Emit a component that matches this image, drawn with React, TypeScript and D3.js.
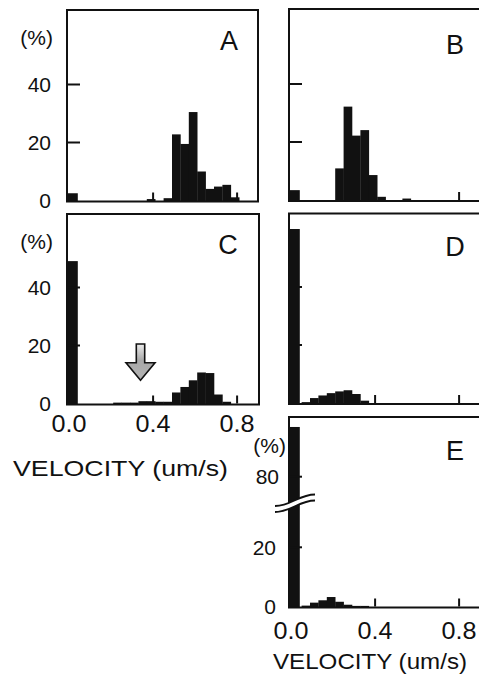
import React from 'react';
import * as d3 from 'd3';

// ---- data ----
const binLo = [-0.01, 0.05, 0.09, 0.13, 0.17, 0.21, 0.25, 0.29, 0.33, 0.37, 0.41, 0.45, 0.49, 0.53, 0.57, 0.61, 0.65, 0.69, 0.73, 0.77, 0.81, 0.85];
const binHi = [0.04, 0.09, 0.13, 0.17, 0.21, 0.25, 0.29, 0.33, 0.37, 0.41, 0.45, 0.49, 0.53, 0.57, 0.61, 0.65, 0.69, 0.73, 0.77, 0.81, 0.85, 0.89];

const valuesA = [2.5, 0, 0, 0, 0, 0, 0, 0, 0, 0.5, 0, 0.8, 22.8, 19.5, 30.5, 10, 4, 4.8, 5.4, 1.1, 0, 0];
const valuesB = [3.4, 0, 0, 0, 0, 10.9, 32.2, 22.2, 24.1, 8.6, 1.1, 0, 0, 0.5, 0, 0, 0, 0, 0, 0, 0, 0];
const valuesC = [49.1, 0, 0, 0, 0, 0.3, 0.3, 0.3, 0.8, 0.8, 0.6, 0.6, 3.8, 5.7, 8, 10.7, 10.5, 3.1, 0.6, 0, 0, 0];
const valuesD = [60, 0.3, 1.7, 2.6, 3.4, 4, 4.4, 3.1, 0.8, 0, 0, 0, 0, 0, 0, 0, 0, 0, 0, 0, 0, 0];
const valuesE = [96.8, 0.3, 1.3, 2.1, 3.2, 1.6, 0.6, 0.2, 0.2, 0, 0, 0, 0, 0, 0, 0, 0, 0, 0, 0, 0, 0];

const xTickValues = [0.4, 0.8];
const xLabelValues = [0, 0.4, 0.8];
const yTickValues = [20, 40];
const yLabelValues = [0, 20, 40];
const eLowerTicks = [20];
const eUpperTicks = [80];
const eLowerLabels = [0, 20];
const eUpperLabels = [80];
const panelLetters = ['A', 'B', 'C', 'D', 'E'];
const axisTitle = 'VELOCITY (um/s)';
const unitLabel = '(%)';
const arrowC = { x: 0.34, top: 20.5, tip: 8 };
const eDomain = { lowerMax: 36, upperMin: 72, upperMax: 100 };

const FONT = "'Liberation Sans', Arial, Helvetica, sans-serif";
const INK = '#111';

type Layout = { left: number; right: number; top: number; base: number };

const layouts: Layout[] = [
  { left: 67, right: 258, top: 10, base: 200.5 },
  { left: 289, right: 482, top: 9, base: 200 },
  { left: 67, right: 259, top: 214, base: 403.5 },
  { left: 289, right: 482, top: 213.5, base: 403 },
  { left: 289, right: 482, top: 417, base: 606.5 },
];
const seriesList = [valuesA, valuesB, valuesC, valuesD, valuesE];
const letterPos = [
  { x: 229, y: 50 },
  { x: 455, y: 54 },
  { x: 228, y: 254 },
  { x: 455, y: 256 },
  { x: 455, y: 460 },
];

function makeX(l: Layout) {
  return d3.scaleLinear().domain([-0.01, 0.9]).range([l.left, l.left + 191.1]);
}
function makeY(l: Layout) {
  return d3.scaleLinear().domain([0, 20]).range([l.base, l.base - 58]);
}

function Bars({ x, y, values, base }: { x: any; y: (v: number) => number; values: number[]; base: number }) {
  return (
    <g>
      {values.map((v, i) =>
        v > 0 ? (
          <rect
            key={i}
            x={x(binLo[i])}
            y={y(v)}
            width={x(binHi[i]) - x(binLo[i]) + 0.3}
            height={base + 1 - y(v)}
            fill={INK}
          />
        ) : null
      )}
    </g>
  );
}

function Panel({ idx }: { idx: number }) {
  const l = layouts[idx];
  const x = makeX(l);
  const isE = idx === 4;
  const yMain = makeY(l);
  const yLower = d3.scaleLinear().domain([0, 20]).range([l.base, l.base - 59.2]);
  const yUpper = d3.scaleLinear().domain([80, 100]).range([476.7, 476.7 - 59.2]);
  const yE = (v: number) => (v <= eDomain.lowerMax ? yLower(v) : yUpper(Math.min(v, eDomain.upperMax)));
  const y = isE ? yE : (v: number) => yMain(v);
  const values = seriesList[idx];
  const showLabels = idx === 0 || idx === 2;

  return (
    <g>
      <Bars x={x} y={y} values={values} base={l.base} />
      {xTickValues.map((t) => (
        <line key={t} x1={x(t)} x2={x(t)} y1={l.base} y2={l.base - 8} stroke={INK} strokeWidth={2} />
      ))}
      {(isE ? [...eLowerTicks.map((t) => yLower(t)), ...eUpperTicks.map((t) => yUpper(t))] : yTickValues.map((t) => yMain(t))).map((yy, i) => (
        <line key={i} x1={l.left} x2={l.left + 13} y1={yy} y2={yy} stroke={INK} strokeWidth={2} />
      ))}
      <rect x={l.left} y={l.top} width={l.right - l.left} height={l.base + 1 - l.top} fill="none" stroke={INK} strokeWidth={2} />
      <text x={letterPos[idx].x} y={letterPos[idx].y} fontSize={27} textAnchor="middle" fill={INK} fontFamily={FONT}>
        {panelLetters[idx]}
      </text>
      {showLabels && (
        <g fontFamily={FONT} fill={INK}>
          {yLabelValues.map((t) => (
            <text key={t} x={51} y={yMain(t)} dy="0.36em" fontSize={21} textAnchor="end">
              {t}
            </text>
          ))}
          <text x={53} y={l.top + 27} dy="0.36em" fontSize={21} textAnchor="end">
            {unitLabel}
          </text>
        </g>
      )}
      {isE && (
        <g fontFamily={FONT} fill={INK}>
          {eLowerLabels.map((t) => (
            <text key={t} x={276} y={yLower(t)} dy="0.36em" fontSize={21} textAnchor="end">
              {t}
            </text>
          ))}
          {eUpperLabels.map((t) => (
            <text key={t} x={279} y={yUpper(t)} dy="0.36em" fontSize={21} textAnchor="end">
              {t}
            </text>
          ))}
          <text x={286} y={445} dy="0.36em" fontSize={21} textAnchor="end">
            {unitLabel}
          </text>
          <path d="M275,506 C291,506 299,494.5 315,494.5 L315,500.5 C299,500.5 291,512 275,512 Z" fill="#fff" stroke="none" />
          <path d="M275,506 C291,506 299,494.5 315,494.5" fill="none" stroke={INK} strokeWidth={1.8} />
          <path d="M275,512 C291,512 299,500.5 315,500.5" fill="none" stroke={INK} strokeWidth={1.8} />
        </g>
      )}
      {(idx === 2 || idx === 4) && (
        <g fontFamily={FONT} fill={INK}>
          {xLabelValues.map((t) => (
            <text key={t} x={x(t)} y={idx === 2 ? 432 : 639} fontSize={24} textAnchor="middle" textLength={35} lengthAdjust="spacingAndGlyphs">
              {t.toFixed(1)}
            </text>
          ))}
          {idx === 2 ? (
            <text x={13} y={476} fontSize={22} textLength={215} lengthAdjust="spacingAndGlyphs">
              {axisTitle}
            </text>
          ) : (
            <text x={273} y={669} fontSize={22} textLength={194} lengthAdjust="spacingAndGlyphs">
              {axisTitle}
            </text>
          )}
        </g>
      )}
      {idx === 2 && <Arrow x={x} y={yMain} />}
    </g>
  );
}

function Arrow({ x, y }: { x: any; y: any }) {
  const cx = x(arrowC.x);
  const top = y(arrowC.top);
  const tip = y(arrowC.tip);
  const headBase = tip - 17.5;
  const sw = 4.2;
  const hw = 14.5;
  const pts = [
    [cx - sw, top],
    [cx + sw, top],
    [cx + sw, headBase],
    [cx + hw, headBase],
    [cx, tip],
    [cx - hw, headBase],
    [cx - sw, headBase],
  ];
  return (
    <g>
      <defs>
        <linearGradient id="arrowGrad" x1="0" y1="0" x2="0" y2="1">
          <stop offset="0" stopColor="#ececec" />
          <stop offset="0.45" stopColor="#a8a8a8" />
          <stop offset="1" stopColor="#b4b4b4" />
        </linearGradient>
      </defs>
      <polygon points={pts.map((p) => p.join(',')).join(' ')} fill="url(#arrowGrad)" stroke={INK} strokeWidth={1.6} strokeLinejoin="miter" />
    </g>
  );
}

export default function App() {
  return (
    <svg width={479} height={679} style={{ position: 'absolute', left: 0, top: 0, background: '#fff' }}>
      <rect x={0} y={0} width={479} height={679} fill="#fff" />
      {layouts.map((_, i) => (
        <Panel key={i} idx={i} />
      ))}
    </svg>
  );
}
